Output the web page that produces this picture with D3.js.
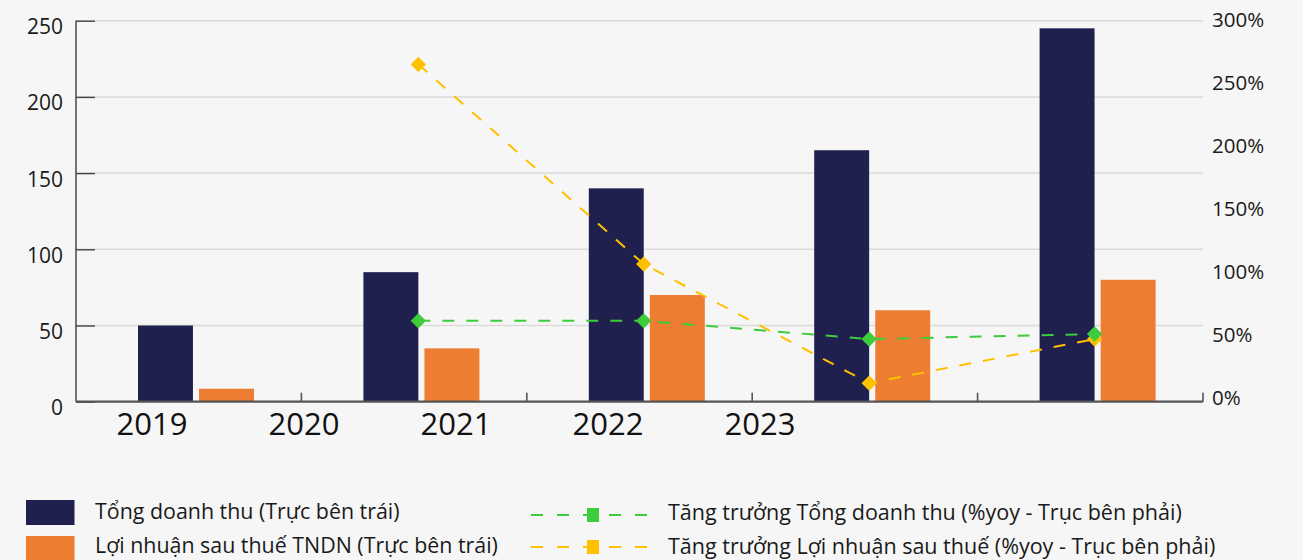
<!DOCTYPE html>
<html>
<head>
<meta charset="utf-8">
<script src="https://cdn.jsdelivr.net/npm/d3@7"></script>
<style>
  html, body { margin: 0; padding: 0; background: #f6f6f6; }
  svg { display: block; font-family: "Open Sans", "Noto Sans", sans-serif; }
</style>
</head>
<body>
<svg id="chart" width="1303" height="560"></svg>
<script>
// ---- data ----
const categories = ["2019", "2020", "2021", "2022", "2023"];
const revenue = [50, 85, 140, 165, 245];            // Tổng doanh thu
const profit = [8.5, 35, 70, 60, 80];               // Lợi nhuận sau thuế TNDN
const revenueGrowth = [null, 61.5, 61.5, 47, 51];   // % yoy
const profitGrowth = [null, 265, 106.5, 12, 47];    // % yoy
const leftTicks = [0, 50, 100, 150, 200, 250];
const rightTicks = [0, 50, 100, 150, 200, 250, 300];
const yearLabels = ["2019", "2020", "2021", "2022", "2023"];
const seriesNames = ["Tổng doanh thu (Trực bên trái)", "Lợi nhuận sau thuế TNDN (Trực bên trái)"];
const lineNames = ["Tăng trưởng Tổng doanh thu (%yoy - Trục bên phải)", "Tăng trưởng Lợi nhuận sau thuế (%yoy - Trục bên phải)"];

const colors = { rev: "#20204f", profit: "#ed7d31", revG: "#3ccc3c", profitG: "#ffc000" };

const svg = d3.select("#chart");
const pLeft = 76, pRight = 1203, pTop = 20.7, pBottom = 401.7;

const x0 = d3.scaleBand().domain(categories).range([pLeft, pRight]).padding(0);
const x1 = d3.scaleBand().domain(["rev", "profit"]).range([62, 178]).paddingInner(0.1).paddingOuter(0);
const yL = d3.scaleLinear().domain([0, 250]).range([pBottom, pTop]);
const yR = d3.scaleLinear().domain([0, 300]).range([398.3, 20.3]);
const xLabel = d3.scaleBand().domain(yearLabels).range([pLeft, 836]);

// gridlines
svg.append("g").selectAll("line").data(leftTicks.filter(d => d > 0)).join("line")
  .attr("x1", pLeft).attr("x2", pRight)
  .attr("y1", d => yL(d)).attr("y2", d => yL(d))
  .attr("stroke", "#dadada").attr("stroke-width", 1.5);

// bars
const bars = svg.append("g");
categories.forEach((c, i) => {
  bars.append("rect")
    .attr("x", x0(c) + x1("rev")).attr("width", x1.bandwidth())
    .attr("y", yL(revenue[i])).attr("height", yL(0) - yL(revenue[i]))
    .attr("fill", colors.rev);
  bars.append("rect")
    .attr("x", x0(c) + x1("profit")).attr("width", x1.bandwidth())
    .attr("y", yL(profit[i])).attr("height", yL(0) - yL(profit[i]))
    .attr("fill", colors.profit);
});

// left axis
const leftAxis = svg.append("g").attr("transform", `translate(${pLeft},0)`)
  .call(d3.axisLeft(yL).tickValues(leftTicks).tickSize(-19).tickPadding(13).tickFormat(d3.format("d")));
leftAxis.select(".domain").attr("stroke", "#555").attr("stroke-width", 1.6).attr("d", `M0,${pTop}V${pBottom}`);
leftAxis.selectAll(".tick line").attr("stroke", "#444").attr("stroke-width", 1.4);
leftAxis.selectAll(".tick text").attr("font-size", 21).attr("fill", "#1a1a1a")
  .attr("font-family", "'Open Sans', sans-serif").attr("dy", "0.62em").attr("x", -13);

// right axis (labels only)
const rightAxis = svg.append("g").attr("transform", `translate(${pRight},0)`)
  .call(d3.axisRight(yR).tickValues(rightTicks).tickSize(0).tickPadding(9).tickFormat(d => d + "%"));
rightAxis.select(".domain").remove();
rightAxis.selectAll(".tick text").attr("font-size", 20.5).attr("fill", "#1a1a1a")
  .attr("font-family", "'Open Sans', sans-serif");

// bottom axis line with inward ticks at band boundaries
const boundaries = categories.map(c => x0(c) + x0.bandwidth());
const bAxis = svg.append("g");
bAxis.append("line").attr("x1", pLeft).attr("x2", pRight).attr("y1", pBottom).attr("y2", pBottom)
  .attr("stroke", "#555").attr("stroke-width", 2.2);
bAxis.selectAll("line.tk").data(boundaries).join("line").attr("class", "tk")
  .attr("x1", d => d).attr("x2", d => d).attr("y1", pBottom).attr("y2", pBottom - 9)
  .attr("stroke", "#555").attr("stroke-width", 1.6);

// year labels (as drawn in reference)
const xAxis = svg.append("g").attr("transform", `translate(0,${pBottom})`)
  .call(d3.axisBottom(xLabel).tickSize(0).tickPadding(0));
xAxis.select(".domain").remove();
xAxis.selectAll(".tick text").attr("font-size", 31).attr("fill", "#111")
  .attr("font-family", "'Open Sans', sans-serif").attr("y", 33).attr("dy", 0);

// growth lines
const ptX = (c) => x0(c) + x1("rev") + x1.bandwidth();
function drawLine(vals, color) {
  const pts = categories.map((c, i) => ({ c, v: vals[i] })).filter(d => d.v !== null);
  const line = d3.line().x(d => ptX(d.c)).y(d => yR(d.v));
  svg.append("path").datum(pts).attr("d", line).attr("fill", "none")
    .attr("stroke", color).attr("stroke-width", 2).attr("stroke-dasharray", "12,12");
  svg.append("g").selectAll("path").data(pts).join("path")
    .attr("d", d3.symbol().type(d3.symbolDiamond2).size(150))
    .attr("transform", d => `translate(${ptX(d.c)},${yR(d.v)})`)
    .attr("fill", color);
}
drawLine(profitGrowth, colors.profitG);
drawLine(revenueGrowth, colors.revG);

// legend
const lg = svg.append("g");
const rowsY = [512, 546];
const lineYs = [515, 547];
[colors.rev, colors.profit].forEach((col, i) => {
  lg.append("rect").attr("x", 26).attr("y", [500, 536][i]).attr("width", 48.5).attr("height", 25).attr("fill", col);
  lg.append("text").attr("x", 95).attr("y", rowsY[i]).attr("dy", "0.35em")
    .attr("font-size", 21.4).attr("fill", "#1a1a1a").text(seriesNames[i]);
});
[colors.revG, colors.profitG].forEach((col, i) => {
  const yy = lineYs[i];
  lg.append("line").attr("x1", 531).attr("x2", 652).attr("y1", yy).attr("y2", yy)
    .attr("stroke", col).attr("stroke-width", 2).attr("stroke-dasharray", "12,14");
  lg.append("rect").attr("x", 587).attr("y", yy - 7).attr("width", 12).attr("height", 14).attr("fill", col);
  lg.append("text").attr("x", 668).attr("y", rowsY[i]).attr("dy", "0.35em")
    .attr("font-size", 21.5).attr("fill", "#1a1a1a").text(lineNames[i]);
});
</script>
</body>
</html>
